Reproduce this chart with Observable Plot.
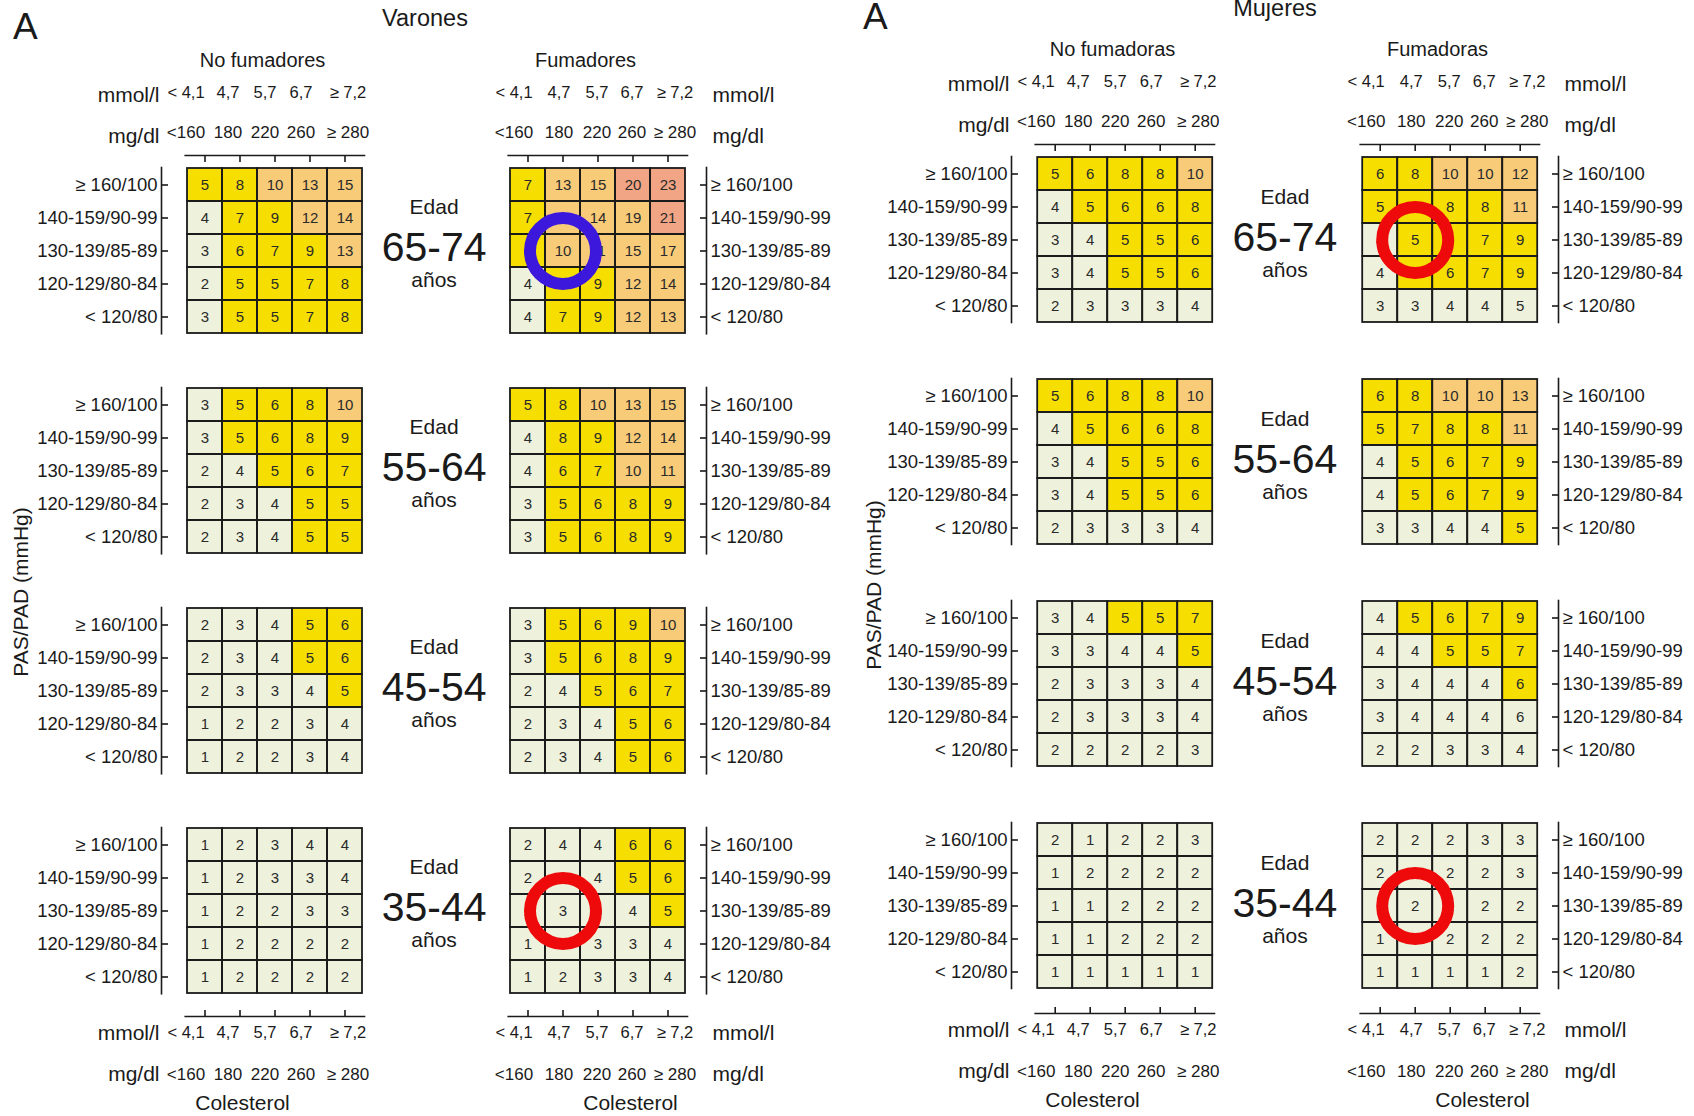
<!DOCTYPE html>
<html lang="es">
<head>
<meta charset="utf-8">
<title>Riesgo coronario a 10 años</title>
<script src="https://cdn.jsdelivr.net/npm/d3@7"></script>
<script src="https://cdn.jsdelivr.net/npm/@observablehq/plot@0.6"></script>
<style>
  html, body { margin: 0; padding: 0; background: #ffffff; }
  #lamina { position: relative; width: 1694px; height: 1116px; overflow: hidden;
            font-family: "Liberation Sans", Arial, sans-serif; color: #1a1a1a; background: #fff; }
  .panel { position: absolute; top: 0; width: 847px; height: 1116px; }
  .panel svg { display: block; }
  .rotulo { position: absolute; white-space: nowrap; line-height: 1; }
  .centrado { transform: translateX(-50%); }
  .vertical { transform: translate(-50%, -50%) rotate(-90deg); }
</style>
</head>
<body>
<div id="lamina">
  <div class="panel" id="varones" style="left:0"></div>
  <div class="panel" id="mujeres" style="left:847px"></div>
  <div class="rotulo" style="left:13px; top:8px; font-size:37px">A</div>
  <div class="rotulo centrado" style="left:425px; top:7px; font-size:23.5px">Varones</div>
  <div class="rotulo" style="left:863px; top:-2px; font-size:37px">A</div>
  <div class="rotulo centrado" style="left:1275px; top:-3px; font-size:23.5px">Mujeres</div>
  <div class="rotulo vertical" style="left:20px; top:592px; font-size:21px">PAS/PAD (mmHg)</div>
  <div class="rotulo vertical" style="left:873px; top:585px; font-size:21px">PAS/PAD (mmHg)</div>
</div>
<script>
// Categorías de las tablas
const edades = ["65-74", "55-64", "45-54", "35-44"];
const presion = ["≥ 160/100", "140-159/90-99", "130-139/85-89", "120-129/80-84", "< 120/80"];
const colesterolMmol = ["< 4,1", "4,7", "5,7", "6,7", "≥ 7,2"];
const colesterolMg = ["<160", "180", "220", "260", "≥ 280"];

// Riesgo coronario (%) a 10 años: un bloque por grupo de edad,
// filas de mayor a menor presión, columnas de menor a mayor colesterol
const varonesNoFumadores = [
  [[5, 8, 10, 13, 15], [4, 7, 9, 12, 14], [3, 6, 7, 9, 13], [2, 5, 5, 7, 8], [3, 5, 5, 7, 8]],
  [[3, 5, 6, 8, 10], [3, 5, 6, 8, 9], [2, 4, 5, 6, 7], [2, 3, 4, 5, 5], [2, 3, 4, 5, 5]],
  [[2, 3, 4, 5, 6], [2, 3, 4, 5, 6], [2, 3, 3, 4, 5], [1, 2, 2, 3, 4], [1, 2, 2, 3, 4]],
  [[1, 2, 3, 4, 4], [1, 2, 3, 3, 4], [1, 2, 2, 3, 3], [1, 2, 2, 2, 2], [1, 2, 2, 2, 2]]
];
const varonesFumadores = [
  [[7, 13, 15, 20, 23], [7, 11, 14, 19, 21], [6, 10, 11, 15, 17], [4, 7, 9, 12, 14], [4, 7, 9, 12, 13]],
  [[5, 8, 10, 13, 15], [4, 8, 9, 12, 14], [4, 6, 7, 10, 11], [3, 5, 6, 8, 9], [3, 5, 6, 8, 9]],
  [[3, 5, 6, 9, 10], [3, 5, 6, 8, 9], [2, 4, 5, 6, 7], [2, 3, 4, 5, 6], [2, 3, 4, 5, 6]],
  [[2, 4, 4, 6, 6], [2, 3, 4, 5, 6], [2, 3, 3, 4, 5], [1, 2, 3, 3, 4], [1, 2, 3, 3, 4]]
];
const mujeresNoFumadoras = [
  [[5, 6, 8, 8, 10], [4, 5, 6, 6, 8], [3, 4, 5, 5, 6], [3, 4, 5, 5, 6], [2, 3, 3, 3, 4]],
  [[5, 6, 8, 8, 10], [4, 5, 6, 6, 8], [3, 4, 5, 5, 6], [3, 4, 5, 5, 6], [2, 3, 3, 3, 4]],
  [[3, 4, 5, 5, 7], [3, 3, 4, 4, 5], [2, 3, 3, 3, 4], [2, 3, 3, 3, 4], [2, 2, 2, 2, 3]],
  [[2, 1, 2, 2, 3], [1, 2, 2, 2, 2], [1, 1, 2, 2, 2], [1, 1, 2, 2, 2], [1, 1, 1, 1, 1]]
];
const mujeresFumadoras = [
  [[6, 8, 10, 10, 12], [5, 7, 8, 8, 11], [4, 5, 6, 7, 9], [4, 5, 6, 7, 9], [3, 3, 4, 4, 5]],
  [[6, 8, 10, 10, 13], [5, 7, 8, 8, 11], [4, 5, 6, 7, 9], [4, 5, 6, 7, 9], [3, 3, 4, 4, 5]],
  [[4, 5, 6, 7, 9], [4, 4, 5, 5, 7], [3, 4, 4, 4, 6], [3, 4, 4, 4, 6], [2, 2, 3, 3, 4]],
  [[2, 2, 2, 3, 3], [2, 2, 2, 2, 3], [1, 2, 2, 2, 2], [1, 2, 2, 2, 2], [1, 1, 1, 1, 2]]
];

// Niveles de riesgo y sus cortes (%)
const nivelesRiesgo = ["< 5%", "5-9%", "10-19%", "≥ 20%"];
const cortesRiesgo = [5, 10, 20];
const coloresRiesgo = ["#eef2dc", "#f6df00", "#f8cb79", "#f2a584"];

// Casillas cuyo riesgo sin redondear queda en el nivel inferior al de la cifra mostrada
const excepcionesNivel = [
  {sexo: "Mujeres", fumador: "Fumadoras", edad: "65-74", presion: "< 120/80", col: 4},
  {sexo: "Mujeres", fumador: "Fumadoras", edad: "45-54", presion: "120-129/80-84", col: 4}
];

// Casillas señaladas con un círculo (1: primer caso, 2: casos comparados)
const resaltadas = [
  {sexo: "Varones", fumador: "Fumadores", edad: "65-74", presion: "130-139/85-89", col: 1, marca: 1},
  {sexo: "Varones", fumador: "Fumadores", edad: "35-44", presion: "130-139/85-89", col: 1, marca: 2},
  {sexo: "Mujeres", fumador: "Fumadoras", edad: "65-74", presion: "130-139/85-89", col: 1, marca: 2},
  {sexo: "Mujeres", fumador: "Fumadoras", edad: "35-44", presion: "130-139/85-89", col: 1, marca: 2}
];

function celdas(sexo, fumador, bloques) {
  const filas = [];
  bloques.forEach((bloque, a) => bloque.forEach((fila, p) => fila.forEach((valor, c) => {
    const excepcion = excepcionesNivel.some(e =>
      e.sexo === sexo && e.fumador === fumador && e.edad === edades[a] && e.presion === presion[p] && e.col === c);
    const n = d3.bisectRight(cortesRiesgo, valor) - (excepcion ? 1 : 0);
    filas.push({sexo, fumador, edad: edades[a], presion: presion[p], col: c, valor, nivel: nivelesRiesgo[n]});
  })));
  return filas;
}

const ANCHO = 847, ALTO = 1116;
const tinta = "#1a1a1a";
const fuente = "'Liberation Sans', Arial, sans-serif";

// Desplazamiento horizontal de cada etiqueta de colesterol respecto a su marca
const ajusteIzquierda = [-19, -12, -10, -9, 3];
const ajusteDerecha = [-14, -4, -1, -1, 7];

function panel(cfg) {
  const {sexo, grupos, bloques} = cfg;
  const [g0, g1] = grupos;
  const datos = [...celdas(sexo, g0, bloques[0]), ...celdas(sexo, g1, bloques[1])];
  const arriba = edades[0], abajo = edades[edades.length - 1];

  // Geometría de cada rejilla y separación de sus ejes
  const anchoRejilla = 180, altoRejilla = 5 * 33.33;
  const insetLeft = 23.7, insetRight = 19, insetTop = 12, insetBottom = cfg.insetBottom;
  const anchoFaceta = anchoRejilla + insetLeft + insetRight;
  const altoFaceta = altoRejilla + insetTop + insetBottom;
  const rangoX = ANCHO - cfg.marginLeft - cfg.marginRight;
  const rangoY = ALTO - cfg.marginTop - cfg.marginBottom;
  const hueco = rangoX - 2 * anchoFaceta;
  const pasoY = (rangoY - altoFaceta) / (edades.length - 1);

  const trazo = {stroke: tinta, strokeWidth: 1.6};
  const pos = {fx: "fumador", fy: "edad", x: "col", y: "presion"};
  const rotulos = (filas, opciones) =>
    Plot.text(filas, {fx: "fx", fy: "fy", text: "t", fill: tinta, lineAnchor: "middle", ...opciones});

  // Etiquetas de colesterol, una marca de eje por columna
  const etiquetasX = (anchor, lado, etiquetas, tickPadding, fontSize) => {
    const ajuste = lado === "left" ? ajusteIzquierda : ajusteDerecha;
    return d3.range(5).map(i => Plot.axisX([i], {
      anchor, facetAnchor: `${anchor}-${lado}`, tickSize: 0, tickPadding, fontSize,
      dx: ajuste[i], tickFormat: j => etiquetas[j], label: null, fill: tinta
    }));
  };
  const marcas = resaltadas.filter(d => d.sexo === sexo);

  return Plot.plot({
    width: ANCHO,
    height: ALTO,
    marginLeft: cfg.marginLeft,
    marginRight: cfg.marginRight,
    marginTop: cfg.marginTop,
    marginBottom: cfg.marginBottom,
    style: {fontFamily: fuente, background: "transparent", overflow: "visible", color: tinta},
    fx: {domain: grupos, paddingInner: hueco / (rangoX - anchoFaceta), paddingOuter: 0, label: null},
    fy: {domain: edades, paddingInner: (pasoY - altoFaceta) / pasoY, paddingOuter: 0, label: null, axis: null},
    x: {domain: d3.range(5), padding: 0, insetLeft, insetRight},
    y: {domain: presion, padding: 0, insetTop, insetBottom},
    color: {type: "ordinal", domain: nivelesRiesgo, range: coloresRiesgo},
    marks: [
      // Casillas de riesgo
      Plot.cell(datos, {...pos, fill: "nivel"}),
      Plot.cell(datos, {...pos, fill: "none", stroke: tinta, strokeWidth: 1.8}),
      Plot.text(datos, {...pos, text: "valor", fontSize: 15, fill: "#2a2a2a"}),

      // Ejes de presión arterial: izquierda para no fumadores, derecha para fumadores
      Plot.frame({anchor: "left", facetAnchor: "left", insetTop, insetBottom, ...trazo}),
      Plot.frame({anchor: "right", facetAnchor: "right", insetTop, insetBottom, ...trazo}),
      Plot.axisY({anchor: "left", facetAnchor: "left", tickSize: 7, dx: 7, tickFormat: () => "", label: null, ...trazo}),
      Plot.axisY({anchor: "right", facetAnchor: "right", tickSize: 7, dx: -7, tickFormat: () => "", label: null, ...trazo}),
      Plot.axisY({anchor: "left", facetAnchor: "left", tickSize: 0, tickPadding: 4, fontSize: 18.5, label: null, fill: tinta}),
      Plot.axisY({anchor: "right", facetAnchor: "right", tickSize: 0, tickPadding: 4, fontSize: 18.5, label: null, fill: tinta}),

      // Ejes de colesterol arriba y abajo
      Plot.frame({anchor: "top", facetAnchor: "top", insetLeft, insetRight, ...trazo}),
      Plot.frame({anchor: "bottom", facetAnchor: "bottom", insetLeft, insetRight, ...trazo}),
      Plot.axisX({anchor: "top", facetAnchor: "top", tickSize: 6, dy: 6, tickFormat: () => "", label: null, ...trazo}),
      Plot.axisX({anchor: "bottom", facetAnchor: "bottom", tickSize: 6, dy: -6, tickFormat: () => "", label: null, ...trazo}),
      etiquetasX("top", "left", colesterolMg, 18, 17),
      etiquetasX("top", "left", colesterolMmol, 58, 16.5),
      etiquetasX("top", "right", colesterolMg, 18, 17),
      etiquetasX("top", "right", colesterolMmol, 58, 16.5),
      etiquetasX("bottom", "left", colesterolMmol, 10, 16.5),
      etiquetasX("bottom", "left", colesterolMg, 51, 17),
      etiquetasX("bottom", "right", colesterolMmol, 10, 16.5),
      etiquetasX("bottom", "right", colesterolMg, 51, 17),

      // Unidades del colesterol
      rotulos([{fx: g0, fy: arriba, t: "mmol/l"}], {frameAnchor: "top-left", textAnchor: "end", dx: -2, dy: -60, fontSize: 21}),
      rotulos([{fx: g0, fy: arriba, t: "mg/dl"}], {frameAnchor: "top-left", textAnchor: "end", dx: -2, dy: -19, fontSize: 21}),
      rotulos([{fx: g1, fy: arriba, t: "mmol/l"}], {frameAnchor: "top-right", textAnchor: "start", dx: 6, dy: -60, fontSize: 21}),
      rotulos([{fx: g1, fy: arriba, t: "mg/dl"}], {frameAnchor: "top-right", textAnchor: "start", dx: 6, dy: -19, fontSize: 21}),
      rotulos([{fx: g0, fy: abajo, t: "mmol/l"}], {frameAnchor: "bottom-left", textAnchor: "end", dx: -2, dy: 17, fontSize: 21}),
      rotulos([{fx: g0, fy: abajo, t: "mg/dl"}], {frameAnchor: "bottom-left", textAnchor: "end", dx: -2, dy: 58, fontSize: 21}),
      rotulos([{fx: g1, fy: abajo, t: "mmol/l"}], {frameAnchor: "bottom-right", textAnchor: "start", dx: 6, dy: 17, fontSize: 21}),
      rotulos([{fx: g1, fy: abajo, t: "mg/dl"}], {frameAnchor: "bottom-right", textAnchor: "start", dx: 6, dy: 58, fontSize: 21}),
      rotulos([{fx: g0, fy: abajo, t: "Colesterol"}], {frameAnchor: "bottom", textAnchor: "middle", dx: -30, dy: 87, fontSize: 21}),
      rotulos([{fx: g1, fy: abajo, t: "Colesterol"}], {frameAnchor: "bottom", textAnchor: "middle", dx: 35, dy: 87, fontSize: 21}),

      // Grupos de tabaquismo
      Plot.axisFx({anchor: "top", tickSize: 0, tickPadding: 89, dx: -10, fontSize: 20, label: null, fill: tinta}),

      // Grupo de edad entre las dos rejillas
      rotulos(edades.map(e => ({fx: g0, fy: e, t: "Edad"})), {frameAnchor: "right", textAnchor: "middle", dx: hueco / 2, dy: -49, fontSize: 21}),
      rotulos(edades.map(e => ({fx: g0, fy: e, t: e})), {frameAnchor: "right", textAnchor: "middle", dx: hueco / 2, dy: -8, fontSize: 41}),
      rotulos(edades.map(e => ({fx: g0, fy: e, t: "años"})), {frameAnchor: "right", textAnchor: "middle", dx: hueco / 2, dy: 24, fontSize: 21}),

      // Casillas señaladas
      Plot.dot(marcas.filter(d => d.marca === 1), {...pos, r: 33, fill: "none", stroke: "#3b18dc", strokeWidth: 12}),
      Plot.dot(marcas.filter(d => d.marca === 2), {...pos, r: 33, fill: "none", stroke: "#ee0a0a", strokeWidth: 12})
    ]
  });
}

document.getElementById("varones").append(panel({
  sexo: "Varones",
  grupos: ["No fumadores", "Fumadores"],
  bloques: [varonesNoFumadores, varonesFumadores],
  marginLeft: 160, marginRight: 140.4, marginTop: 153, marginBottom: 99.3, insetBottom: 22.7
}));

document.getElementById("mujeres").append(panel({
  sexo: "Mujeres",
  grupos: ["No fumadoras", "Fumadoras"],
  bloques: [mujeresNoFumadoras, mujeresFumadoras],
  marginLeft: 163.8, marginRight: 135, marginTop: 144, marginBottom: 101.7, insetBottom: 25
}));
</script>
</body>
</html>
